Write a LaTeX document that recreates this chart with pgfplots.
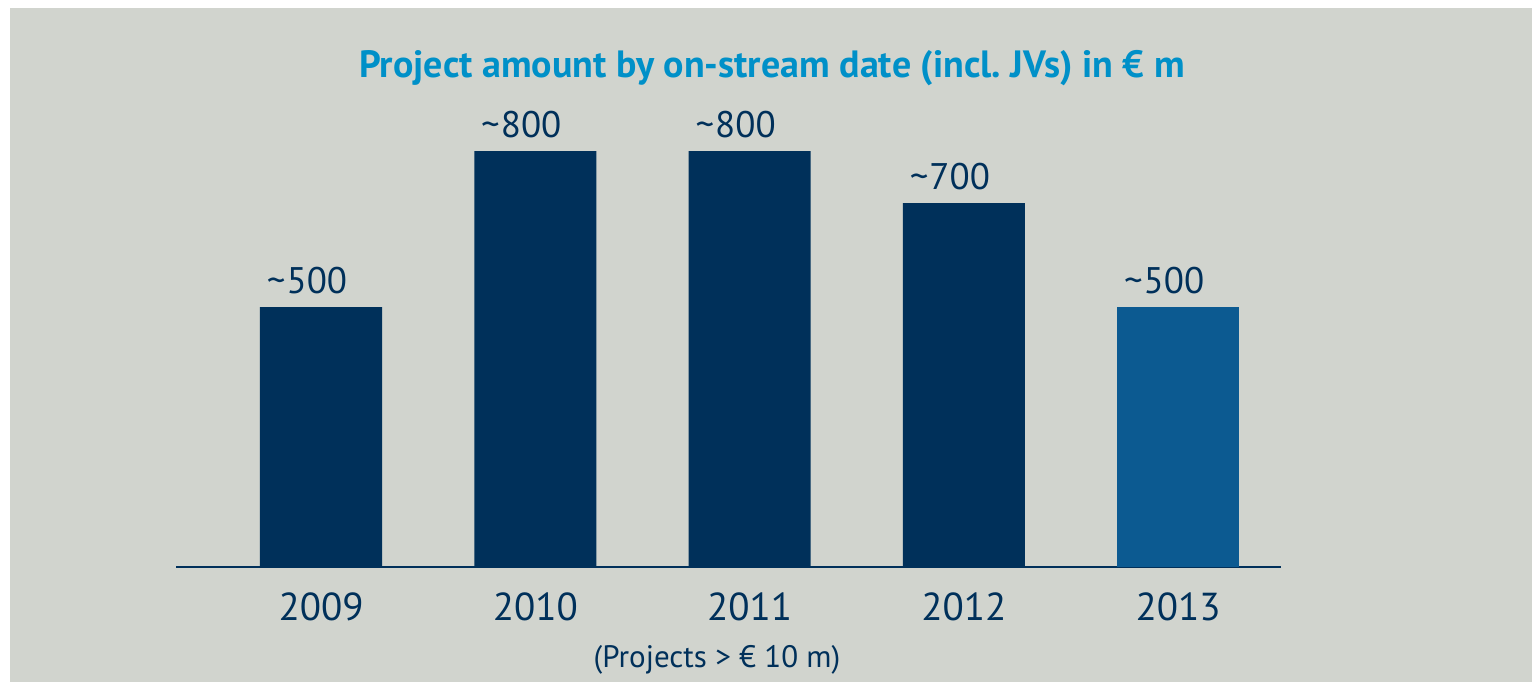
\documentclass[border=0pt]{standalone}
\usepackage{fontspec}
\setmainfont{PT Sans}
\usepackage{pgfplots}
\pgfplotsset{compat=1.18}
\definecolor{bg}{HTML}{D1D4CE}
\definecolor{navy}{HTML}{00305A}
\definecolor{mid}{HTML}{0C5A91}
\definecolor{ttl}{HTML}{0090C8}
\begin{document}
\begin{tikzpicture}[x=1pt,y=1pt]
\path[use as bounding box] (0,0) rectangle (1532,-682);
\fill[white] (0,0) rectangle (1532,-682);
\fill[bg] (10,-8) rectangle (1532,-682);
\begin{axis}[
  at={(176pt,-567pt)}, anchor=south west,
  scale only axis, width=1105pt, height=416pt,
  xmin=-0.677, xmax=4.48, ymin=0, ymax=800,
  axis y line=none, axis x line*=bottom,
  x axis line style={navy, line width=2pt, -},
  xtick={0,1,2,3,4}, xticklabels={2009,2010,2011,2012,2013},
  major tick length=0pt, ytick=\empty,
  xticklabel style={anchor=base, yshift=-53pt, text=navy, font={\fontsize{39}{46}\selectfont}},
  clip=false,
  point meta=explicit symbolic,
  nodes near coords={\textasciitilde\kern1pt\pgfplotspointmeta},
  every node near coord/.append style={anchor=base, yshift=14pt, xshift=-14pt, text=navy, font={\fontsize{37}{44}\selectfont}},
]
\addplot[ybar, bar shift=0pt, bar width=0.57, fill=navy, draw=none] coordinates {(0,500)[500] (1,800)[800] (2,800)[800] (3,700)[700]};
\addplot[ybar, bar shift=0pt, bar width=0.57, fill=mid, draw=none] coordinates {(4,500)[500]};
\end{axis}
\node[anchor=base, text=ttl, font={\fontsize{38}{45}\selectfont\bfseries}] at (772,-78) {Project amount by on-stream date (incl.\ JVs) in € m};
\node[anchor=base, text=navy, font={\fontsize{31}{36}\selectfont}] at (717,-667) {(Projects > € 10 m)};
\end{tikzpicture}
\end{document}
